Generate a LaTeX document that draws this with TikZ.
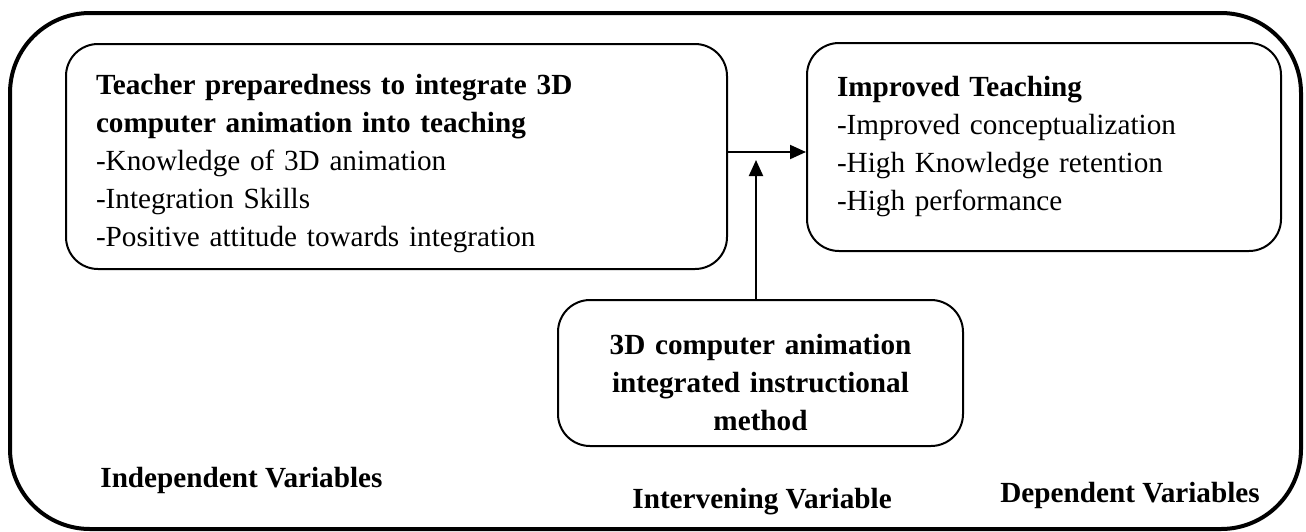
\documentclass[tikz,border=0pt]{standalone}
\usepackage{fontspec}
\setmainfont{Liberation Serif}
\usetikzlibrary{positioning,arrows.meta}

\begin{document}
\begin{tikzpicture}[x=0.5pt,y=-0.5pt,
  font=\fontsize{14.6}{19}\selectfont,
  var/.style={draw, line width=1pt, rounded corners=16pt, anchor=north west, inner xsep=15pt, inner ysep=0pt},
  lab/.style={font=\fontsize{14.6}{19}\selectfont\bfseries, anchor=base west, inner sep=0pt},
  link/.style={line width=1pt, -{Triangle[length=8pt,width=7pt]}}]
\useasboundingbox (0,0) rectangle (1306,531);
% frame
\draw[line width=2pt, rounded corners=40pt] (10,13) rectangle (1301,529);
% variables
\node[var, align=left, text width=300.5pt, minimum height=112.5pt] (teach) at (65,43)
  {\rule{0pt}{17pt}\textbf{Teacher preparedness to integrate 3D}\\ \textbf{computer animation into teaching}\\ -Knowledge of 3D animation\\ -Integration Skills\\ -Positive attitude towards integration};
\node[var, align=left, text width=207pt, minimum height=104pt] (impr) at (806,42)
  {\textbf{Improved Teaching}\\ -Improved conceptualization\\ -High Knowledge retention\\ -High performance};
\node[var, align=center, text width=172.5pt, minimum height=73pt] (inst) at (557,299)
  {\rule{0pt}{20pt}\textbf{3D computer animation}\\ \textbf{integrated instructional}\\ \textbf{method}};
% links
\coordinate (join) at (756,152);
\coordinate (tip) at (756,160);
\draw[link] (teach.east |- join) -- (impr.west |- join);
\draw[link] (inst.north -| tip) -- (tip);
% captions
\node[lab] (indep) at (100,487) {Independent Variables};
\node[lab] (interv) at (632,508) {Intervening Variable};
\node[lab] (dep) at (1000,502) {Dependent Variables};
\end{tikzpicture}
\end{document}
